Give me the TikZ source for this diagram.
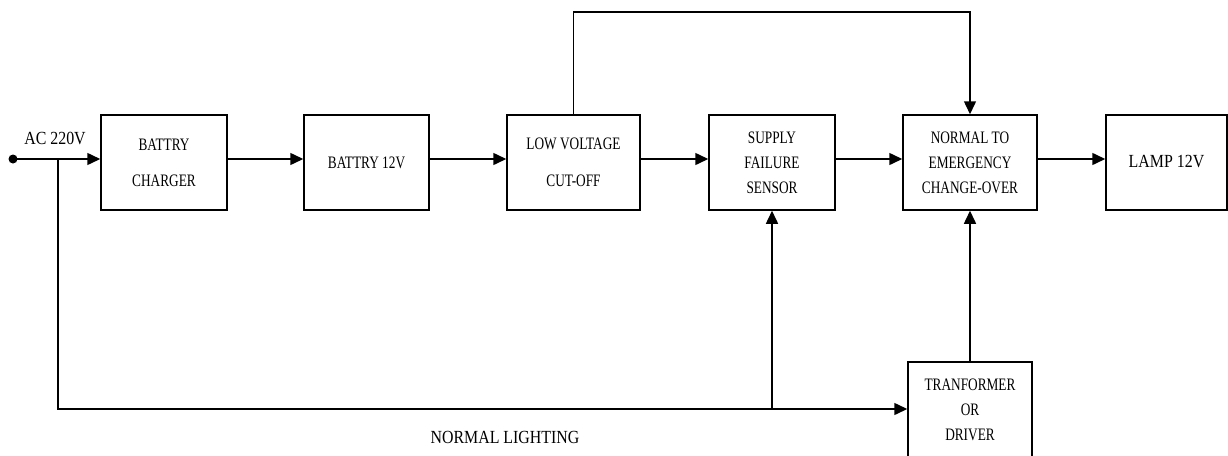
\documentclass[tikz,border=0pt]{standalone}
\usepackage{fontspec}
\setmainfont{Liberation Serif}[FakeStretch=0.86]
\newfontfamily\boxfont{Liberation Serif}[FakeStretch=0.76]
\usetikzlibrary{arrows.meta}
\begin{document}
\begin{tikzpicture}[x=1pt,y=-1pt,
  blk/.style={draw,line width=1.5pt,inner sep=0pt,minimum height=95pt,align=center,
     font=\boxfont\fontsize{17.5}{25}\selectfont},
  lbl/.style={inner sep=0pt,font=\fontsize{18.5}{25}\selectfont},
  arr/.style={line width=1.5pt,-{Triangle[length=13pt,width=12pt]}},
  ln/.style={line width=1.5pt}]
\useasboundingbox (0,0) rectangle (1228,455);
\clip (0,0) rectangle (1228,455);
\node[blk,minimum width=126pt] (b1) at (164,162.5) {BATTRY\\[11pt]CHARGER};
\node[blk,minimum width=125pt] (b2) at (366.5,162.5) {BATTRY 12V};
\node[blk,minimum width=133pt] (b3) at (573.5,162.5) {LOW VOLTAGE\\[12pt]CUT-OFF};
\node[blk,minimum width=126pt] (b4) at (772,162.5) {SUPPLY\\FAILURE\\SENSOR};
\node[blk,minimum width=134pt] (b5) at (970,162.5) {NORMAL TO\\EMERGENCY\\CHANGE-OVER};
\node[blk,minimum width=121pt,font=\fontsize{18.5}{25}\selectfont] (b6) at (1166.5,162.5) {\raisebox{3pt}{LAMP 12V}};
\node[blk,minimum width=124pt,minimum height=96pt] (tr) at (970,410) {TRANFORMER\\OR\\DRIVER};
\node[lbl] (ac) at (55,138) {AC 220V};
\node[lbl] (nl) at (505,437) {NORMAL LIGHTING};
\node[circle,fill,inner sep=0pt,minimum size=9pt] (dot) at (13,159) {};
\coordinate (j1) at (58,159);
\coordinate (j2) at (58,409);
\coordinate (j3) at (772,409);
\coordinate (t1) at (573.5,12);
\coordinate (t2) at (970,12);
\draw[arr] (dot.center) -- ([yshift=3.5pt]b1.west);
\draw[arr] ([yshift=3.5pt]b1.east) -- ([yshift=3.5pt]b2.west);
\draw[arr] ([yshift=3.5pt]b2.east) -- ([yshift=3.5pt]b3.west);
\draw[arr] ([yshift=3.5pt]b3.east) -- ([yshift=3.5pt]b4.west);
\draw[arr] ([yshift=3.5pt]b4.east) -- ([yshift=3.5pt]b5.west);
\draw[arr] ([yshift=3.5pt]b5.east) -- ([yshift=3.5pt]b6.west);
\draw[arr] (j1) -- (j2) -- (tr.west |- j2);
\draw[arr] (j3) -- (b4.south);
\draw[arr] (tr.north) -- (b5.south);
\draw[arr] (b3.north) -- (t1) -- (t2) -- (b5.north);
\end{tikzpicture}
\end{document}
